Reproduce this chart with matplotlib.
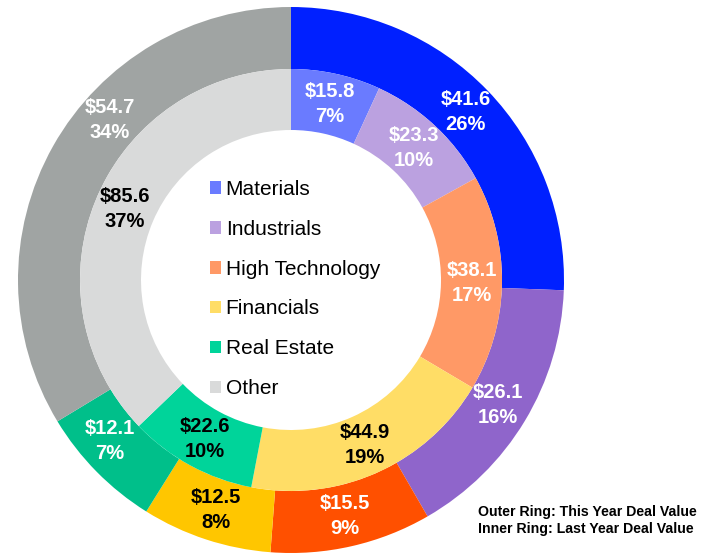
import numpy as np
import matplotlib.pyplot as plt
from matplotlib.patches import Patch

plt.rcParams['font.family'] = ['Liberation Sans', 'DejaVu Sans']

sectors = ['Materials', 'Industrials', 'High Technology', 'Financials', 'Real Estate', 'Other']
this_year = [41.6, 26.1, 15.5, 12.5, 12.1, 54.7]
last_year = [15.8, 23.3, 38.1, 44.9, 22.6, 85.6]
this_pct = [26, 16, 9, 8, 7, 34]
last_pct = [7, 10, 17, 19, 10, 37]

outer_colors = ['#0020FF', '#8F65CB', '#FF5000', '#FFC600', '#00BF8A', '#A0A4A3']
inner_colors = ['#6A7BFF', '#BBA1E0', '#FF9966', '#FFDD66', '#00D49A', '#D9DADA']
outer_text = ['white', 'white', 'white', 'black', 'white', 'white']
inner_text = ['white', 'white', 'white', 'black', 'black', 'black']
# small angular nudges (degrees) for crowded outer labels
outer_shift = [0, 0, 0, 0, -3, -12]

W, H = 721, 553
cx, cy, R = 291, 280, 273  # ring centre / radius in pixels
r_mid = 211 / R
r_hole = 150 / R

fig = plt.figure(figsize=(W / 100, H / 100), dpi=100)
ax = fig.add_axes([0, 0, 1, 1])

ax.pie(this_year, radius=1, startangle=90, counterclock=False, colors=outer_colors,
       wedgeprops=dict(width=1 - r_mid, linewidth=0))
ax.pie(last_year, radius=r_mid, startangle=90, counterclock=False, colors=inner_colors,
       wedgeprops=dict(width=r_mid - r_hole, linewidth=0))

ax.set_xlim(-cx / R, (W - cx) / R)
ax.set_ylim(-(H - cy) / R, cy / R)
ax.axis('off')


def add_labels(values, pcts, colors, radius, shifts):
    total = sum(values)
    cum = np.cumsum([0] + list(values))
    for i, v in enumerate(values):
        mid = (cum[i] + cum[i + 1]) / 2 / total
        ang = np.deg2rad(90 - mid * 360 + shifts[i])
        ax.text(radius * np.cos(ang), radius * np.sin(ang), f'${v:.1f}\n{pcts[i]}%',
                ha='center', va='center', color=colors[i], fontsize=14.5,
                fontweight='bold', linespacing=1.4)


add_labels(this_year, this_pct, outer_text, (1 + r_mid) / 2, outer_shift)
add_labels(last_year, last_pct, inner_text, (r_mid + r_hole) / 2, [0] * 6)

handles = [Patch(facecolor=c, edgecolor='none') for c in inner_colors]
fig.legend(handles, sectors, loc='upper left', bbox_to_anchor=(210 / W, 1 - 180 / H),
           frameon=False, fontsize=15, handlelength=0.55, handleheight=0.55,
           handletextpad=0.2, labelspacing=1.0, borderpad=0, borderaxespad=0)

fig.text(478 / W, 1 - 520.5 / H, 'Outer Ring: This Year Deal Value\nInner Ring: Last Year Deal Value',
         ha='left', va='center', fontsize=10.2, fontweight='bold', linespacing=1.2)

fig.savefig('out.png', dpi=100)
